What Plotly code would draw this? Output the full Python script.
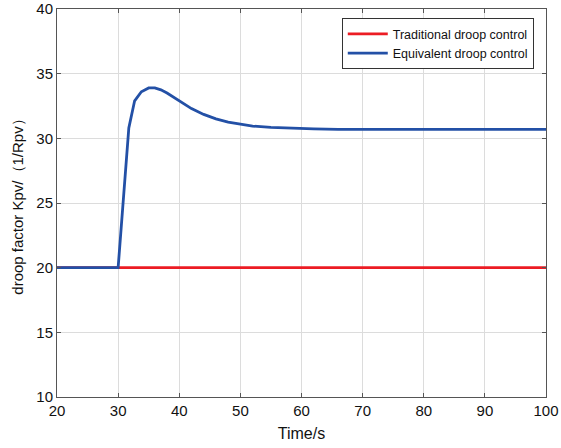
import plotly.graph_objects as go

# Time axis (s) and droop factor values
time_trad = [20, 100]
kpv_trad = [20, 20]

time_eq = [20, 30, 31.75, 32.7, 33.8, 35.0, 36.0, 37.0, 38.0, 40.0, 42.0, 44.0,
           46.0, 48.0, 50.0, 52.0, 55.0, 58.0, 62.0, 66.0, 70.0, 80.0, 90.0, 100.0]
kpv_eq = [20, 20, 30.8, 32.9, 33.6, 33.9, 33.9, 33.75, 33.5, 32.9, 32.3, 31.85,
          31.5, 31.25, 31.08, 30.95, 30.85, 30.78, 30.73, 30.7, 30.7, 30.7, 30.7, 30.7]

x_ticks = [20, 30, 40, 50, 60, 70, 80, 90, 100]
y_ticks = [10, 15, 20, 25, 30, 35, 40]

FONT = "Liberation Sans, Arial"

fig = go.Figure()
fig.add_trace(go.Scatter(x=time_trad, y=kpv_trad, mode="lines",
                         name="Traditional droop control",
                         line=dict(color="#EC1C24", width=2.8)))
fig.add_trace(go.Scatter(x=time_eq, y=kpv_eq, mode="lines",
                         name="Equivalent droop control",
                         line=dict(color="#2350A6", width=2.8)))

axis_common = dict(showgrid=True, gridcolor="#DCDCDC", gridwidth=1,
                   showline=True, linecolor="#555555", linewidth=1, mirror="ticks",
                   ticks="inside", ticklen=4, tickcolor="#555555",
                   zeroline=False, automargin=False,
                   tickfont=dict(family=FONT, size=15, color="#111111"))

fig.update_xaxes(range=[20, 100], tickvals=x_ticks,
                 title=dict(text="Time/s", standoff=9,
                            font=dict(family=FONT, size=16, color="#111111")),
                 **axis_common)
fig.update_yaxes(range=[10, 40], tickvals=y_ticks,
                 title=dict(text="droop factor Kpv/（1/Rpv）", standoff=9,
                            font=dict(family=FONT, size=15, color="#111111")),
                 **axis_common)

fig.update_layout(
    width=561, height=448,
    margin=dict(l=57, r=15, t=9, b=51),
    plot_bgcolor="white", paper_bgcolor="white",
    showlegend=True,
    legend=dict(x=0.975, y=0.976, xanchor="right", yanchor="top",
                bgcolor="white", bordercolor="#333333", borderwidth=1,
                font=dict(family=FONT, size=12.5, color="#111111"),
                tracegroupgap=0, itemwidth=40),
)

fig.write_html("out.html")
